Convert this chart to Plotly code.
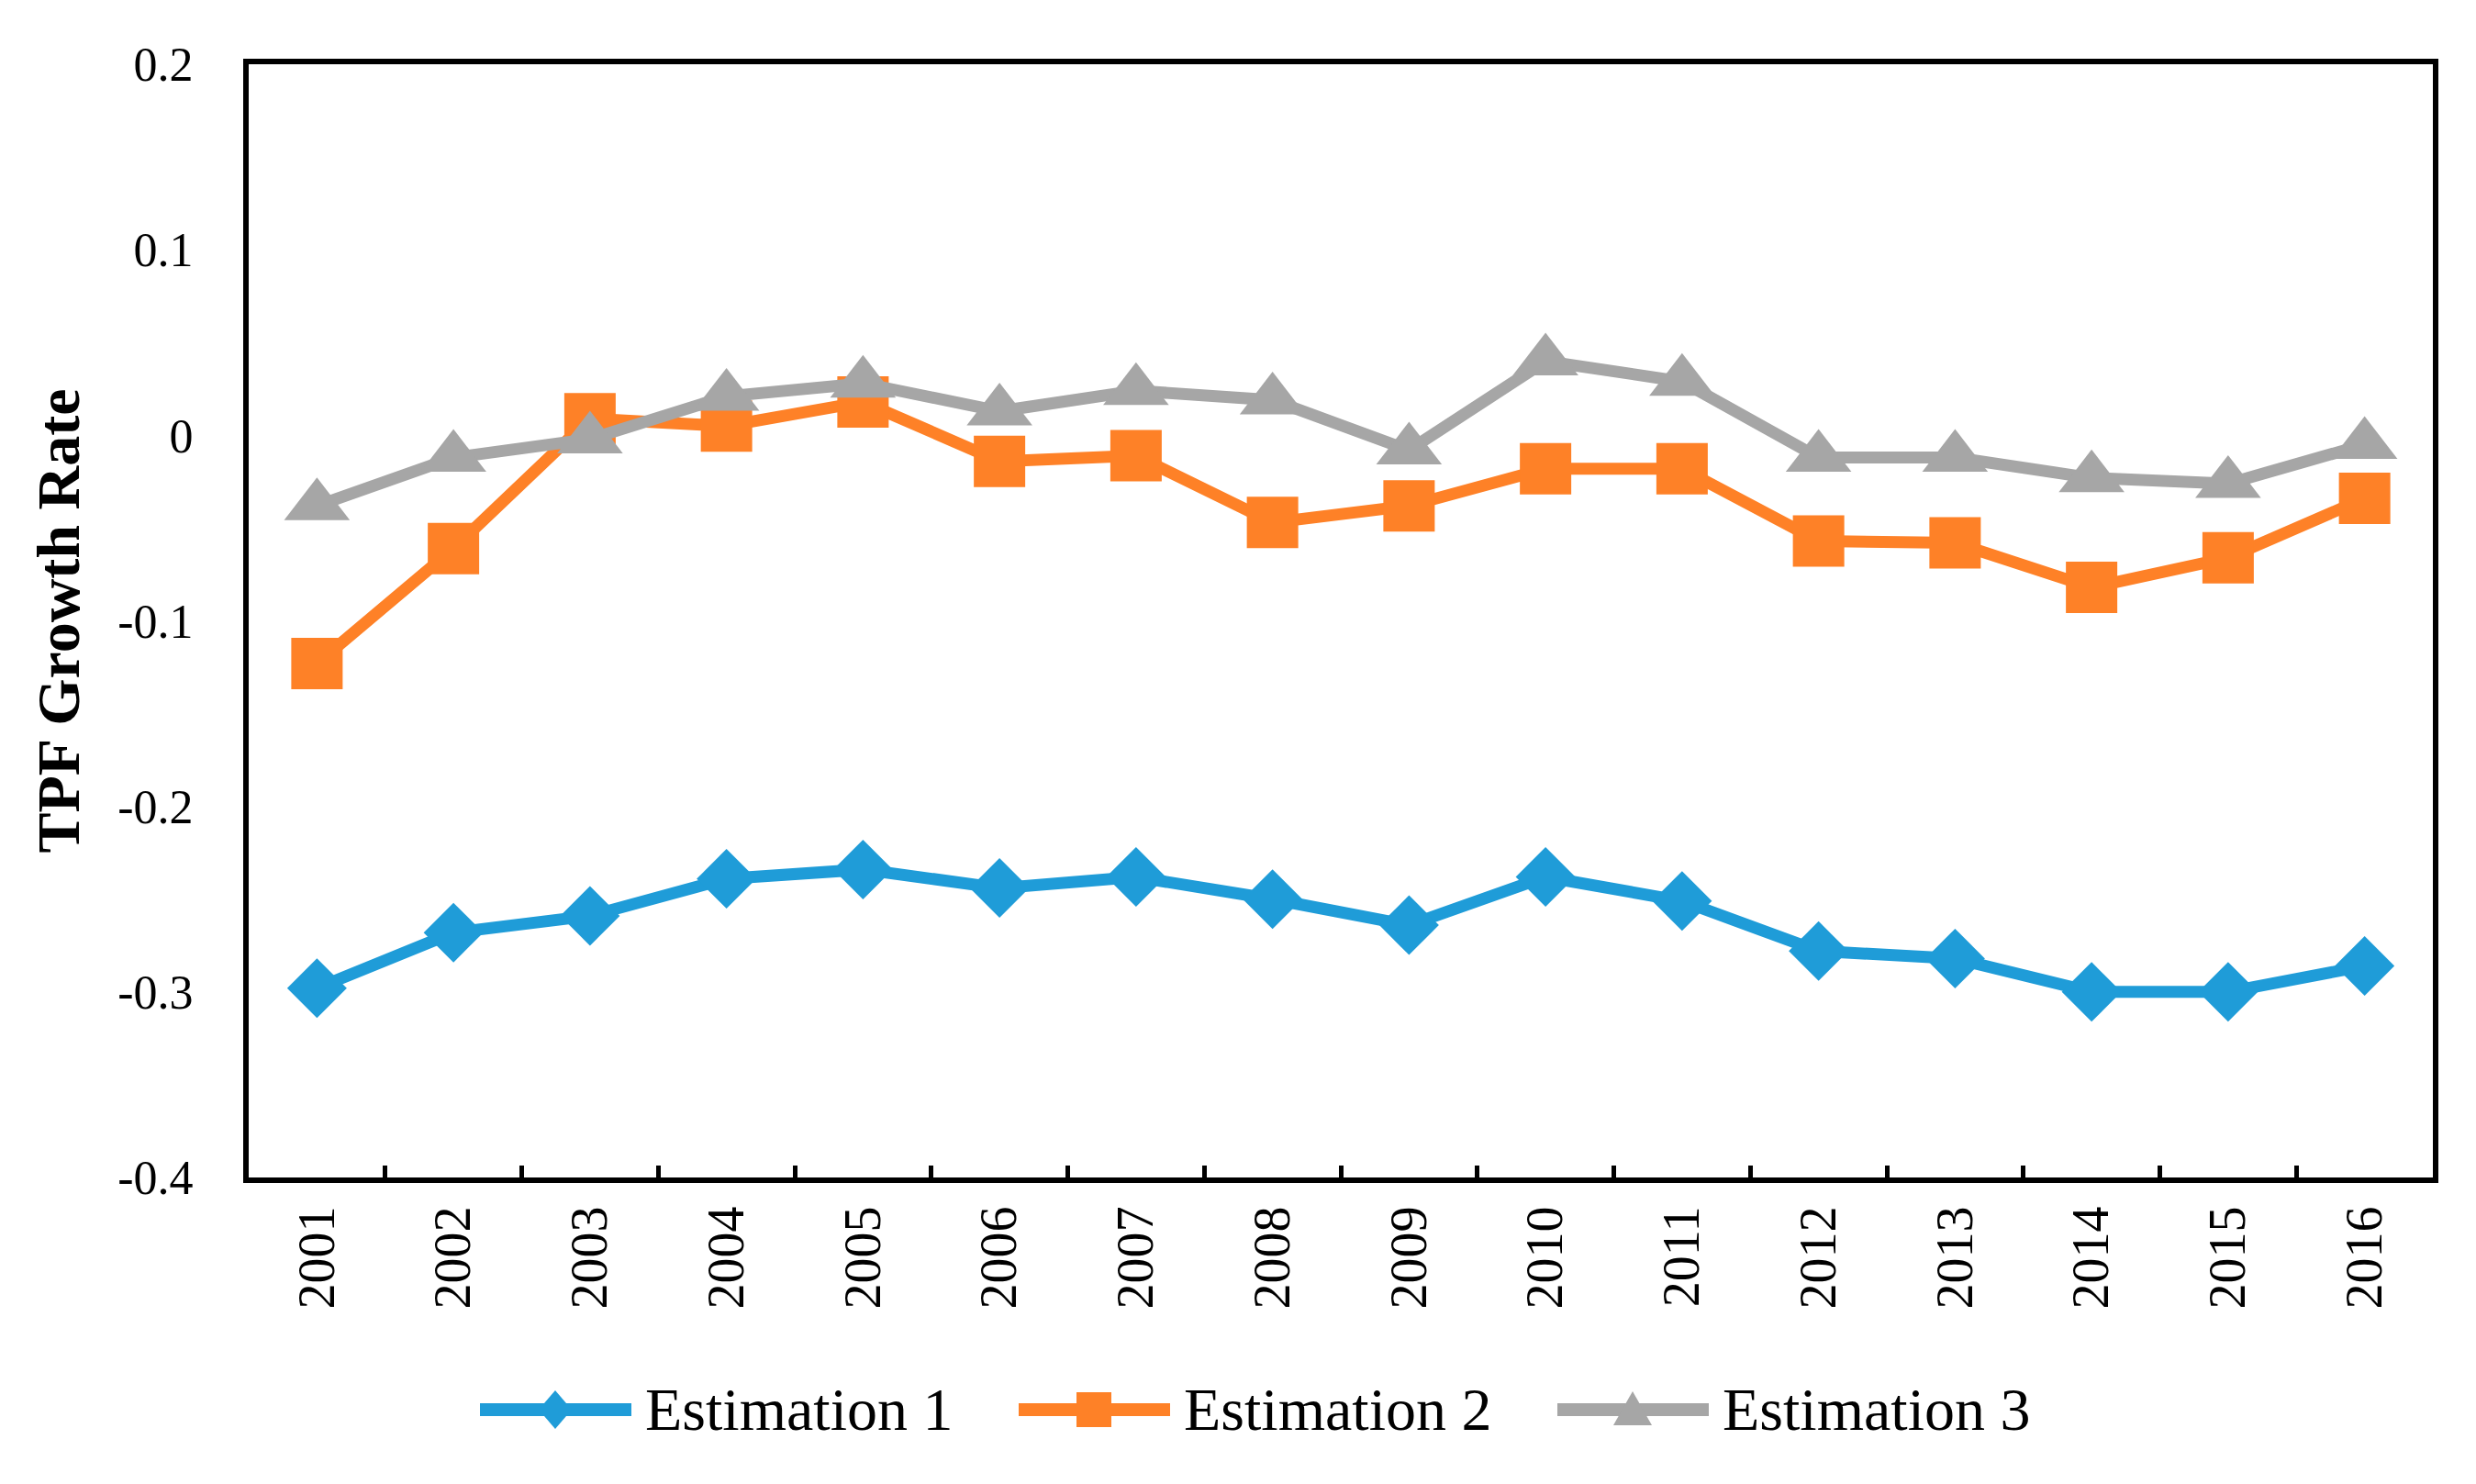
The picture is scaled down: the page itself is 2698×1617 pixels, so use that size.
import plotly.graph_objects as go

# ---- data ----
years = ["2001", "2002", "2003", "2004", "2005", "2006", "2007", "2008",
         "2009", "2010", "2011", "2012", "2013", "2014", "2015", "2016"]
estimation_1 = [-0.298, -0.268, -0.259, -0.239, -0.234, -0.244, -0.238, -0.250,
                -0.264, -0.238, -0.251, -0.278, -0.282, -0.300, -0.300, -0.286]
estimation_2 = [-0.123, -0.061, 0.009, 0.005, 0.018, -0.014, -0.011, -0.047,
                -0.038, -0.018, -0.018, -0.057, -0.058, -0.082, -0.066, -0.034]
estimation_3 = [-0.038, -0.012, -0.002, 0.021, 0.028, 0.013, 0.024, 0.019,
                -0.008, 0.040, 0.029, -0.012, -0.012, -0.023, -0.026, -0.005]
series_names = ["Estimation 1", "Estimation 2", "Estimation 3"]
y_tickvals = [-0.4, -0.3, -0.2, -0.1, 0, 0.1, 0.2]
y_ticktext = ["-0.4", "-0.3", "-0.2", "-0.1", "0", "0.1", "0.2"]

# ---- styles ----
colors = ["#1F9CD8", "#FE8127", "#A6A6A6"]
symbols = ["diamond", "square", "triangle-up"]
sizes = [50, 56, 62]
FONT = "Liberation Serif"

W, H = 2698, 1617
ML, MR, MT, MB = 263, 55, 62, 342
PW, PH = W - ML - MR, H - MT - MB

fig = go.Figure()
for vals, name, c, s, sz in zip([estimation_1, estimation_2, estimation_3],
                                series_names, colors, symbols, sizes):
    fig.add_trace(go.Scatter(
        x=years, y=vals, name=name, mode="lines+markers",
        line=dict(color=c, width=13),
        marker=dict(symbol=s, size=sz, color=c, line=dict(width=0)),
        showlegend=False,
    ))

# ---- custom legend (large symbols like the original) ----
def px_x(px):
    return (px - ML) / PW

def px_y(py):
    return (H - MB - py) / PH

legend_y = 1528
marker_paths = [
    "M-18,0 L0,21 L18,0 L0,-21 Z",
    "M-19,-19 L19,-19 L19,19 L-19,19 Z",
    "M-21,-17 L21,-17 L0,20 Z",
]
shapes = []
annotations = []
for i, (name, c) in enumerate(zip(series_names, colors)):
    x0 = 515 + 587 * i
    shapes.append(dict(type="line", xref="paper", yref="paper",
                       x0=px_x(x0), x1=px_x(x0 + 165),
                       y0=px_y(legend_y), y1=px_y(legend_y),
                       line=dict(color=c, width=14)))
    shapes.append(dict(type="path", xref="paper", yref="paper",
                       xsizemode="pixel", ysizemode="pixel",
                       xanchor=px_x(x0 + 82), yanchor=px_y(legend_y),
                       path=marker_paths[i], fillcolor=c,
                       line=dict(width=0)))
    annotations.append(dict(xref="paper", yref="paper",
                            x=px_x(x0 + 178), y=px_y(legend_y),
                            xanchor="left", yanchor="middle",
                            text=name, showarrow=False,
                            font=dict(family=FONT, size=66, color="black")))

fig.update_layout(
    width=W, height=H,
    margin=dict(l=ML, r=MR, t=MT, b=MB),
    paper_bgcolor="white", plot_bgcolor="white",
    font=dict(family=FONT, color="black"),
    shapes=shapes, annotations=annotations,
    xaxis=dict(
        type="category", range=[-0.5, 15.5],
        showline=True, linecolor="black", linewidth=6, mirror=True,
        ticks="inside", tickson="boundaries", ticklen=13, tickwidth=5,
        tickcolor="black", tickangle=-90, showgrid=False,
        tickfont=dict(family=FONT, size=56, color="black"),
        ticklabelstandoff=3,
    ),
    yaxis=dict(
        range=[-0.4, 0.2], tickvals=y_tickvals, ticktext=y_ticktext,
        showline=True, linecolor="black", linewidth=6, mirror=True,
        ticks="", showgrid=False, zeroline=False,
        tickfont=dict(family=FONT, size=52, color="black"),
        ticklabelstandoff=44,
        title=dict(text="TPF Growth Rate", standoff=22,
                   font=dict(family=FONT, size=66, weight="bold", color="black")),
    ),
)

fig.write_html("out.html")
